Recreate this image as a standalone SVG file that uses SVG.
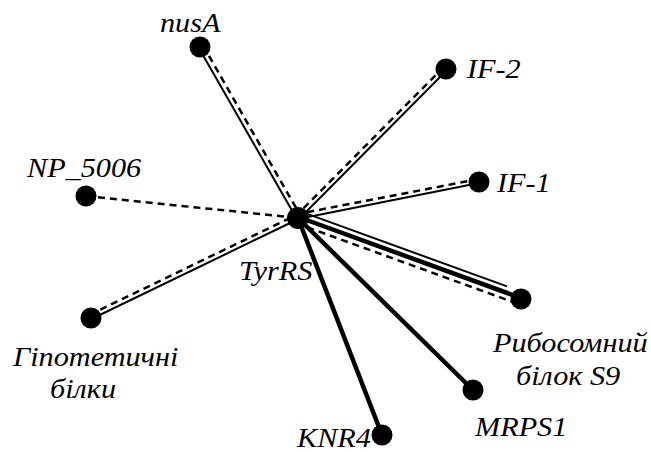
<svg xmlns="http://www.w3.org/2000/svg" width="651" height="452" viewBox="0 0 651 452">
<style>
  .lbl { font-family: 'Liberation Serif', 'Times New Roman', 'DejaVu Serif', serif; font-style: italic; font-size: 28px; fill: #000; }
  .thin { stroke: #000; stroke-width: 2; fill: none; }
  .thick { stroke: #000; stroke-width: 4.5; fill: none; }
  .dash { stroke: #000; stroke-width: 2.5; stroke-dasharray: 7 5; fill: none; }
  .node { fill: #000; }
</style>
<rect width="651" height="452" fill="#fff"/>
<g id="connectors">
  <line class="thin" x1="198.7" y1="47.7" x2="296.7" y2="218.7"/>
  <line class="dash" x1="203" y1="45.5" x2="301" y2="216.5"/>
  <line class="thin" x1="447" y1="70" x2="299" y2="219"/>
  <line class="dash" x1="443.9" y1="66.9" x2="295.9" y2="215.9"/>
  <line class="thin" x1="479" y1="183" x2="298" y2="219"/>
  <line class="dash" x1="479" y1="179" x2="297.2" y2="214.1"/>
  <line class="dash" x1="86" y1="196" x2="298" y2="218"/>
  <line class="thin" x1="91.4" y1="319" x2="298.4" y2="219"/>
  <line class="dash" x1="89.5" y1="314.9" x2="296.5" y2="214.9"/>
  <line class="thin" x1="300.4" y1="211.4" x2="507" y2="286.4"/>
  <line class="thick" x1="298.3" y1="217" x2="521" y2="298"/>
  <line class="dash" x1="296" y1="223.2" x2="519" y2="304.2"/>
  <line class="thick" x1="298" y1="218" x2="473" y2="390"/>
  <line class="thick" x1="298" y1="218" x2="382" y2="435"/>
</g>
<g id="TyrRS">
  <circle class="node" cx="298" cy="218" r="11"/>
  <text class="lbl" transform="translate(239,280) scale(1.08,1)">TyrRS</text>
</g>
<g id="nusA">
  <circle class="node" cx="200" cy="47" r="10.5"/>
  <text class="lbl" transform="translate(160,32) scale(1.08,1)">nusA</text>
</g>
<g id="IF-2">
  <circle class="node" cx="446" cy="69" r="10.5"/>
  <text class="lbl" transform="translate(467,78) scale(1.08,1)">IF-2</text>
</g>
<g id="IF-1">
  <circle class="node" cx="479" cy="182" r="10.5"/>
  <text class="lbl" transform="translate(497,192) scale(1.08,1)">IF-1</text>
</g>
<g id="NP_5006">
  <circle class="node" cx="86" cy="196" r="10.5"/>
  <text class="lbl" transform="translate(27,177) scale(1.08,1)">NP_5006</text>
</g>
<g id="hypothetical">
  <circle class="node" cx="91" cy="318" r="10.5"/>
  <text class="lbl" transform="translate(13,366) scale(1.08,1)">Гіпотетичні</text>
  <text class="lbl" transform="translate(50,398) scale(1.08,1)">білки</text>
</g>
<g id="ribosomal-S9">
  <circle class="node" cx="521" cy="299" r="10.5"/>
  <text class="lbl" transform="translate(493,352) scale(1.08,1)">Рибосомний</text>
  <text class="lbl" transform="translate(516,385) scale(1.08,1)">білок S9</text>
</g>
<g id="MRPS1">
  <circle class="node" cx="473" cy="390" r="10.5"/>
  <text class="lbl" transform="translate(475,436) scale(1.08,1)">MRPS1</text>
</g>
<g id="KNR4">
  <circle class="node" cx="382" cy="435" r="10.5"/>
  <text class="lbl" transform="translate(297,447) scale(1.08,1)">KNR4</text>
</g>
</svg>
